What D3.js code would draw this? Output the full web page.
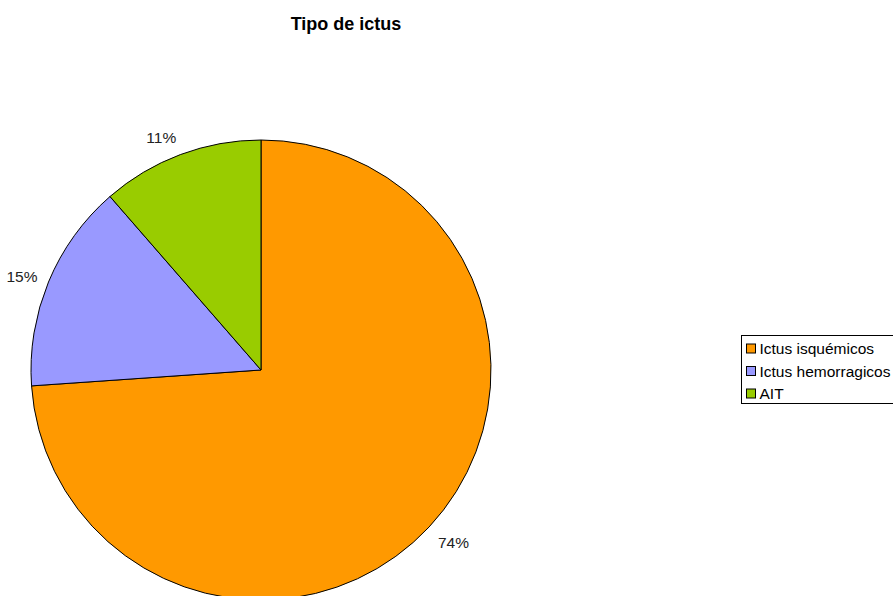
<!DOCTYPE html>
<html>
<head>
<meta charset="utf-8">
<script src="https://cdn.jsdelivr.net/npm/d3@7"></script>
<style>
    body { margin: 0; background: #fff; }
    svg { display: block; }
</style>
</head>
<body>
<script>
// data (share of each stroke type, %)
var categories = ['Ictus isquémicos', 'Ictus hemorragicos', 'AIT'];
var values = [73.9, 14.7, 11.4];
var colors = ['#ff9900', '#9999ff', '#99cc00'];

var width = 893, height = 596;
var cx = 261, cy = 370, radius = 230;

var data = categories.map(function(c, i) {
    return { name: c, value: values[i], color: colors[i] };
});

var svg = d3.select('body')
    .append('svg')
    .attr('width', width)
    .attr('height', height)
    .style('font-family', '"Liberation Sans", Arial, sans-serif');

svg.append('text')
    .attr('x', 346)
    .attr('y', 30)
    .attr('text-anchor', 'middle')
    .attr('font-size', '18px')
    .attr('font-weight', 'bold')
    .text('Tipo de ictus');

var pie = d3.pie().sort(null).value(function(d) { return d.value; });
var arc = d3.arc().innerRadius(0).outerRadius(radius);

var total = d3.sum(values);
var arcs = pie(data);

var g = svg.append('g')
    .attr('transform', 'translate(' + cx + ',' + cy + ')');

g.selectAll('path')
    .data(arcs)
    .enter()
    .append('path')
    .attr('d', arc)
    .attr('fill', function(d) { return d.data.color; })
    .attr('stroke', '#000')
    .attr('stroke-width', 1);

// percentage labels just outside the slices
var labelR = 242;
g.selectAll('text.lbl')
    .data(arcs)
    .enter()
    .append('text')
    .attr('class', 'lbl')
    .attr('font-size', '15.5px')
    .attr('fill', '#222')
    .each(function(d) {
        var a = (d.startAngle + d.endAngle) / 2;
        var s = Math.sin(a), c = Math.cos(a);
        d3.select(this)
            .attr('x', labelR * s)
            .attr('y', -labelR * c - c * 8 + 2)
            .attr('dy', '0.35em')
            .attr('text-anchor', s < 0 ? 'end' : 'start');
    })
    .text(function(d) { return Math.round(d.data.value / total * 100) + '%'; });

// legend
var lg = svg.append('g').attr('transform', 'translate(741.5,335.5)');
lg.append('rect')
    .attr('width', 160)
    .attr('height', 68)
    .attr('fill', '#fff')
    .attr('stroke', '#000');

var rows = lg.selectAll('g.row')
    .data(data)
    .enter()
    .append('g')
    .attr('class', 'row')
    .attr('transform', function(d, i) { return 'translate(5,' + (13.5 + i * 22.5) + ')'; });

rows.append('rect')
    .attr('x', 0)
    .attr('y', -5)
    .attr('width', 9)
    .attr('height', 9)
    .attr('fill', function(d) { return d.color; })
    .attr('stroke', '#000');

rows.append('text')
    .attr('x', 13)
    .attr('dy', '0.35em')
    .attr('font-size', '15.5px')
    .text(function(d) { return d.name; });
</script>
</body>
</html>
